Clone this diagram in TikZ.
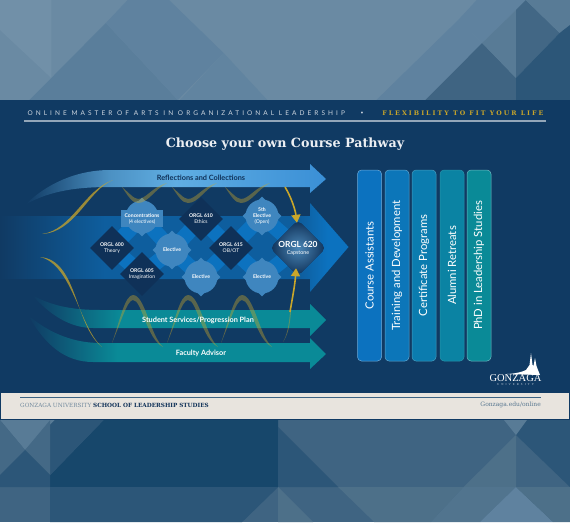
\documentclass[tikz,border=0pt]{standalone}
\usepackage{fontspec}
\setmainfont{Lato}
\newfontfamily\slabfont{DejaVu Serif}
\newfontfamily\gzfont{Liberation Serif}
\usetikzlibrary{shapes.geometric,arrows.meta}
\definecolor{panel}{HTML}{103A63}
\definecolor{bandc}{HTML}{0E5E9E}
\definecolor{linkc}{HTML}{0C72BF}
\definecolor{navy}{HTML}{0F3158}
\definecolor{circc}{HTML}{3F86BF}
\definecolor{goldc}{HTML}{C9A62A}
\definecolor{tealc}{HTML}{0A8A97}
\definecolor{footc}{HTML}{E8E4DE}
\definecolor{skyc}{HTML}{60AEE3}
\definecolor{skyd}{HTML}{3A8FD6}
\definecolor{c1}{HTML}{5F829F}
\definecolor{c2}{HTML}{3F6482}
\definecolor{c3}{HTML}{2C5678}
\definecolor{c4}{HTML}{4D7089}
\definecolor{c5}{HTML}{587B96}
\definecolor{c6}{HTML}{6A8AA3}
\definecolor{c7}{HTML}{17476B}
\pgfdeclarelayer{back}
\pgfdeclarelayer{mid}
\pgfsetlayers{back,mid,main}
\pgfdeclarehorizontalshading{bandfade}{100bp}{color(0bp)=(panel);color(25bp)=(panel);color(40bp)=(bandc);color(68bp)=(bandc);color(72bp)=(linkc);color(100bp)=(linkc)}
\pgfdeclarehorizontalshading{skyfade}{100bp}{color(0bp)=(panel);color(25bp)=(panel);color(39bp)=(skyc!75!panel);color(50bp)=(skyc);color(75bp)=(skyd);color(100bp)=(skyd)}
\pgfdeclarehorizontalshading{tealfade}{100bp}{color(0bp)=(panel);color(25bp)=(panel);color(40bp)=(tealc);color(100bp)=(tealc)}
\tikzset{
  dmd/.style={diamond,aspect=1,fill=navy,minimum size=44pt,inner sep=0pt,text=white,align=center,font=\fontsize{5.1}{6}\selectfont\bfseries},
  circ/.style={circle,fill=circc,minimum size=33pt,inner sep=0pt,text=white,align=center,font=\fontsize{5.1}{6}\selectfont\bfseries},
  pip/.style={diamond,aspect=1,fill=circc,minimum size=39pt,inner sep=0pt},
  lnk/.style={linkc,line width=15pt},
  ribbon/.style={fill=goldc,draw=none,opacity=0.75},
  dimrib/.style={fill=goldc,draw=none,opacity=0.4},
  goldarw/.style={draw=goldc,line width=1.6pt,-{Triangle[width=9pt,length=8pt]}},
  arwlbl/.style={font=\fontsize{7.3}{9}\selectfont\bfseries,text=white},
  colbox/.style={rounded corners=4pt,draw=white!40!#1,line width=0.5pt,fill=#1,rectangle,minimum width=24pt,minimum height=191pt,inner sep=0pt},
  coltxt/.style={rotate=90,text=white,font=\fontsize{11.3}{13}\selectfont}
}
\begin{document}
\begin{tikzpicture}[x=1pt,y=-1pt]
\useasboundingbox (0,0) rectangle (570,522);
\begin{pgfonlayer}{back}
\fill[c6] (0,0) rectangle (570,100);
\fill[c2] (0,420) rectangle (570,522);
\begin{scope}[xscale=1.0909]
\fill[c6!95!white] (0,0) -- (47,0) -- (47,78) -- (0,30) -- cycle;
\fill[c1!90!c3] (97,23) -- (163,100) -- (27,100) -- cycle;
\fill[c1] (97,23) -- (117,0) -- (155,0) -- (205,53) -- (163,100) -- cycle;
\fill[c1!80!c6] (205,53) -- (245,100) -- (165,100) -- cycle;
\fill[c1] (420,20) -- (442,43) -- (390,100) -- (345,100) -- cycle;
\fill[c1] (420,20) -- (437,0) -- (482,0) -- (442,43) -- cycle;
\fill[c2] (442,43) -- (473,78) -- (473,100) -- (390,100) -- cycle;
\fill[c5] (442,43) -- (473,10) -- (473,78) -- cycle;
\fill[c2!90!c1] (473,10) -- (482,0) -- (513,33) -- (473,78) -- cycle;
\fill[c5] (482,0) -- (522.5,0) -- (522.5,25) -- (513,33) -- cycle;
\fill[c3] (473,78) -- (513,33) -- (522.5,25) -- (522.5,100) -- (473,100) -- cycle;
\fill[c7] (95,420) -- (255,420) -- (255,487) -- (46,487) -- (46,475) -- cycle;
\fill[c3] (46,487) -- (255,487) -- (222,522) -- (46,522) -- cycle;
\fill[c3] (46,420) -- (95,420) -- (46,475) -- cycle;
\fill[c5] (0,420) -- (50,420) -- (23,450) -- cycle;
\fill[c2!85!c1] (23,450) -- (46,475) -- (46,420) -- cycle;
\fill[c2!85!c1] (0,420) -- (23,450) -- (0,475) -- cycle;
\fill[c3] (0,475) -- (23,450) -- (46,475) -- (46,487) -- (0,487) -- cycle;
\fill[c3] (255,427) -- (310,487) -- (255,487) -- cycle;
\fill[c4] (310,487) -- (425,487) -- (395,522) -- (343,522) -- cycle;
\fill[c4] (255,487) -- (287,522) -- (255,522) -- cycle;
\fill[c4] (473,435) -- (425,487) -- (473,487) -- cycle;
\fill[c3] (473,435) -- (522.5,487) -- (522.5,420) -- (483,420) -- cycle;
\fill[c5] (462,420) -- (483,420) -- (473,435) -- cycle;
\fill[c4!80!c1] (425,487) -- (473,487) -- (440,522) -- (395,522) -- cycle;
\fill[c1] (473,487) -- (507,522) -- (440,522) -- cycle;
\fill[c4] (473,487) -- (522.5,487) -- (522.5,522) -- (507,522) -- cycle;
\end{scope}
\fill[panel] (0,100) rectangle (570,420);
\fill[footc] (1,393) rectangle (569,419);
\shade[shading=bandfade] (0,216) -- (310,216) -- (310,203) -- (348.5,247) -- (310,292) -- (310,279) -- (0,279) -- cycle;
\shade[shading=skyfade] (25,205) .. controls (45,185) and (75,170) .. (110,170) -- (310,170) -- (310,164) -- (326,179) -- (310,193) -- (310,187) -- (110,187) .. controls (80,187) and (50,190) .. (25,205) -- cycle;
\shade[shading=tealfade] (32,295) .. controls (50,305) and (70,310) .. (100,310) -- (310,310) -- (310,304) -- (326,320) -- (310,336) -- (310,328) -- (93,328) .. controls (70,328) and (50,315) .. (32,295) -- cycle;
\shade[shading=tealfade] (28,315) .. controls (45,330) and (70,343) .. (100,343) -- (310,343) -- (310,338) -- (326,354) -- (310,369) -- (310,362) -- (93,362) .. controls (65,362) and (45,345) .. (28,315) -- cycle;
\end{pgfonlayer}

\node[text=white!80!panel,font=\fontsize{6.5}{8}\selectfont,anchor=west] (hdl) at (24,113.5)
  {\addfontfeature{LetterSpace=47}ONLINE MASTER OF ARTS IN ORGANIZATIONAL LEADERSHIP};
\node[text=white!80!panel,font=\fontsize{5}{6}\selectfont] (hdot) at (362,113.5) {\textbullet};
\node[text=goldc,font=\bfseries\fontsize{6.3}{8}\selectfont\slabfont,anchor=east] (hdr) at (547,113.5)
  {\addfontfeature{LetterSpace=32}FLEXIBILITY TO FIT YOUR LIFE};
\fill[white!55!panel] (24,120) rectangle (546,122);
\node[text=white!92!panel,font=\slabfont\bfseries\fontsize{12.7}{15}\selectfont] (ttl) at (285,144.5) {Choose your own Course Pathway};

\node[pip] (p1) at (142,217) {};
\node[pip] (p2) at (172,250) {};
\node[pip] (p3) at (201,277) {};
\node[pip] (p4) at (262,216) {};
\node[pip] (p5) at (262,277) {};
\node[circ] (cc) at (142,217) {};
\node[rectangle,fill=circc,minimum width=42pt,minimum height=17pt,inner sep=0pt,text=white,align=center,font=\fontsize{5.1}{6}\selectfont\bfseries] (conc) at (142,218.5) {Concentrations\\\mdseries(4 electives)};
\node[circ] (e1) at (172,250) {Elective};
\node[circ] (e2) at (201,277) {Elective};
\node[circ] (e3) at (262,216) {5th\\Elective\\\mdseries(Open)};
\node[circ] (e4) at (262,277) {Elective};
\node[dmd] (d600) at (112,248) {ORGL 600\\\mdseries Theory};
\node[dmd] (d605) at (142,274) {ORGL 605\\\mdseries Imagination};
\node[dmd] (d610) at (201,219) {ORGL 610\\\mdseries Ethics};
\node[dmd] (d615) at (231,248) {ORGL 615\\\mdseries OB/OT};
\node[dmd,minimum size=56pt,rounded corners=5pt,inner color=bandc!75!white,outer color=navy,font=\bfseries\fontsize{8.4}{9}\selectfont] (d620) at (298,248) {ORGL 620\\[-2pt]\mdseries\fontsize{5.4}{6}\selectfont Capstone};
\begin{pgfonlayer}{mid}
\foreach \a/\b in {d600/cc,d600/d605,cc/e1,d605/e1,e1/d610,e1/e2,d610/d615,e2/d615,d615/e3,d615/e4,e3/d620,e4/d620}
  \draw[lnk] (\a.center) -- (\b.center);
\end{pgfonlayer}

\fill[ribbon] (42,234) .. controls (72,230) and (84,190) .. (113,180) .. controls (88,190) and (76,232) .. (42,234) -- cycle;
\foreach \x in {0,50,103}
  \fill[dimrib,xshift=\x pt] (122,187) .. controls (128,196) and (132,203) .. (138,203) .. controls (148,203) and (154,190) .. (167,183) .. controls (152,187) and (146,199) .. (138,199) .. controls (134,199) and (128,192) .. (122,187) -- cycle;
\fill[ribbon] (40,257) .. controls (78,260) and (74,325) .. (102,347) .. controls (80,328) and (72,264) .. (40,257) -- cycle;
\foreach \x in {0,55,109}
  \fill[dimrib,xshift=\x pt] (112,343) .. controls (120,320) and (125,295) .. (133,295) .. controls (145,295) and (150,335) .. (163,347) .. controls (146,338) and (142,300) .. (133,300) .. controls (127,300) and (120,325) .. (112,343) -- cycle;
\fill[dimrib] (283,342) .. controls (287,335) and (289,325) .. (290,312) -- (291,312) .. controls (290,325) and (288,335) .. (283,342) -- cycle;
\coordinate (g1) at (285,187);
\coordinate (g2) at (290,312);
\draw[goldarw] (g1) .. controls (290,195) and (295,208) .. ([shift={(-1,3)}]d620.north);
\draw[goldarw] (g2) .. controls (292,300) and (295,285) .. ([shift={(-2,-8)}]d620.south);

\node[arwlbl,text=navy] (lrc) at (201,178) {Reflections and Collections};
\node[arwlbl] (lsp) at (198,320) {Student Services/Progression Plan};
\node[arwlbl] (lfa) at (201,353) {Faculty Advisor};

\node[colbox=linkc] (b1) at (369.5,265.5) {};
\node[colbox=linkc!85!tealc] (b2) at (397,265.5) {};
\node[colbox=linkc!60!tealc] (b3) at (424,265.5) {};
\node[colbox=linkc!30!tealc] (b4) at (452,265.5) {};
\node[colbox=tealc] (b5) at (479,265.5) {};
\node[coltxt] at (b1) {Course Assistants};
\node[coltxt] at (b2) {Training and Development};
\node[coltxt] at (b3) {Certificate Programs};
\node[coltxt] at (b4) {Alumni Retreats};
\node[coltxt] at (b5) {PhD in Leadership Studies};

\fill[white] (507,374) .. controls (516,373.5) and (522,372) .. (526,370) -- (529.5,365) -- (531,353) -- (532.5,365) -- (533.5,366) -- (535,358) -- (536.5,366) -- (538,370) -- (540,375) -- cycle;
\node[text=white,font=\gzfont\fontsize{10.5}{11}\selectfont] (gz) at (515.5,378.5) {GONZAGA};
\node[text=white!80!panel,font=\gzfont\fontsize{3}{4}\selectfont] (gu) at (515.5,385) {\addfontfeature{LetterSpace=70}UNIVERSITY};
\draw[color=c3!70!c1,line width=1pt] (20,397) -- (541,397);
\node[anchor=west,inner sep=0pt,font=\slabfont\fontsize{5.7}{7}\selectfont,text=c2!70!footc] (ft1) at (20,405) {GONZAGA UNIVERSITY \textbf{\color{navy}SCHOOL OF LEADERSHIP STUDIES}};
\node[anchor=east,inner sep=0pt,font=\slabfont\fontsize{6}{7}\selectfont,text=c2!85!footc] (ft2) at (541,405) {Gonzaga.edu/online};
\end{tikzpicture}
\end{document}
